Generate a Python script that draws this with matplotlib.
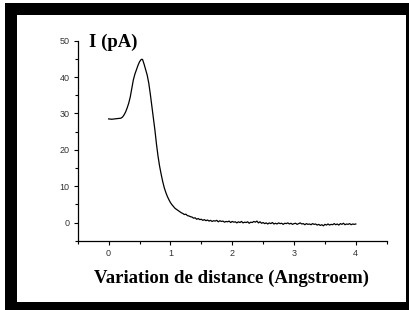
import matplotlib
matplotlib.use('Agg')
import matplotlib.pyplot as plt
import numpy as np
from matplotlib.patches import Rectangle

# courbe I(d) : montee + pic
x_pic = [0.0, 0.05, 0.1, 0.15, 0.2, 0.225, 0.25, 0.275, 0.3, 0.325, 0.35, 0.375,
         0.4, 0.425, 0.45, 0.475, 0.5, 0.525, 0.54, 0.55, 0.575, 0.6, 0.625, 0.65,
         0.675, 0.7, 0.725, 0.75, 0.775, 0.8, 0.825, 0.85, 0.875, 0.9, 0.925,
         0.95, 0.975, 1.0, 1.025, 1.05, 1.075, 1.1, 1.125, 1.15, 1.175]
y_pic = [28.5, 28.4, 28.5, 28.6, 28.7, 29.0, 29.6, 30.4, 31.5, 32.8, 34.5, 36.8,
         39.2, 40.8, 42.0, 43.2, 44.2, 44.8, 44.9, 44.8, 43.5, 42.0, 40.5, 38.3,
         35.3, 32.0, 28.8, 25.3, 21.5, 18.2, 15.5, 13.3, 11.3, 9.6, 8.3,
         7.2, 6.3, 5.5, 4.9, 4.4, 3.9, 3.6, 3.3, 3.0, 2.7]

# queue bruitee de 1.2 a 4.0 (pas 0.025)
y_queue = [2.5, 2.2, 2.3, 1.9, 1.8, 1.6, 1.5, 1.2, 1.3, 0.9, 1.1, 0.8, 0.9, 0.6,
           0.8, 0.5, 0.7, 0.4, 0.6, 0.3, 0.5, 0.4, 0.6, 0.2, 0.5, 0.3, 0.4, 0.1,
           0.3, 0.2, 0.4, 0.0, 0.3, 0.1, 0.2, -0.1, 0.2, 0.0, 0.3, -0.1, 0.1, 0.0,
           0.2, -0.2, 0.1, 0.0, 0.3, 0.1, 0.4, -0.1, 0.2, -0.2, 0.0, -0.3, -0.1,
           -0.4, -0.1, -0.3, 0.0, -0.4, -0.2, -0.4, -0.1, -0.3, -0.2, -0.5, -0.2,
           -0.3, -0.1, -0.4, -0.2, -0.5, -0.3, -0.2, -0.5, -0.3, -0.1, -0.4, -0.3,
           -0.6, -0.3, -0.5, -0.4, -0.6, -0.3, -0.5, -0.4, -0.7, -0.5, -0.8, -0.6,
           -0.9, -0.5, -0.7, -0.4, -0.7, -0.5, -0.6, -0.3, -0.6, -0.4, -0.7, -0.3,
           -0.5, -0.2, -0.6, -0.4, -0.5, -0.3, -0.6, -0.4, -0.5, -0.4]
x_queue = np.linspace(1.2, 4.0, len(y_queue))

x = np.concatenate([x_pic, x_queue])
y = np.concatenate([y_pic, y_queue])

fig = plt.figure(figsize=(4.09, 3.10), dpi=100)
fig.patch.set_facecolor('white')
# cadre noir
fig.add_artist(Rectangle((5/409, 0), 1, 1 - 3/310, transform=fig.transFigure,
                         facecolor='black', edgecolor='none', zorder=0))
fig.add_artist(Rectangle((17/409, 8/310), (405.7 - 17)/409, (302 - 15)/310,
                         transform=fig.transFigure, facecolor='white',
                         edgecolor='none', zorder=0))

ax = fig.add_axes([0.190, 0.2235, 0.7555, 0.6452])
ax.patch.set_alpha(0)
ax.plot(x, y, color='black', lw=0.9)

ax.set_xlim(-0.5, 4.5)
ax.set_ylim(-5, 50)
ax.spines['top'].set_visible(False)
ax.spines['right'].set_visible(False)
ax.spines['left'].set_linewidth(0.9)
ax.spines['bottom'].set_linewidth(0.9)
ax.set_xticks([0, 1, 2, 3, 4])
ax.set_xticks([-0.5, 0.5, 1.5, 2.5, 3.5, 4.5], minor=True)
ax.set_yticks([0, 10, 20, 30, 40, 50])
ax.set_yticks([-5, 5, 15, 25, 35, 45], minor=True)
ax.tick_params(which='major', length=3, width=0.8, labelsize=6.5,
               labelcolor='#333333', pad=3)
ax.tick_params(which='minor', length=2, width=0.8)
for lab in ax.get_xticklabels() + ax.get_yticklabels():
    lab.set_fontfamily('Liberation Sans')

fig.text(89/409, 1 - 47/310, "I (pA)", fontsize=13.5, fontweight='bold',
         family='Liberation Serif', va='baseline', ha='left')
fig.text(232/409, 1 - 283/310, "Variation de distance (Angstroem)", fontsize=13.5,
         fontweight='bold', family='Liberation Serif', va='baseline', ha='center')

plt.savefig("out.png", dpi=100)
